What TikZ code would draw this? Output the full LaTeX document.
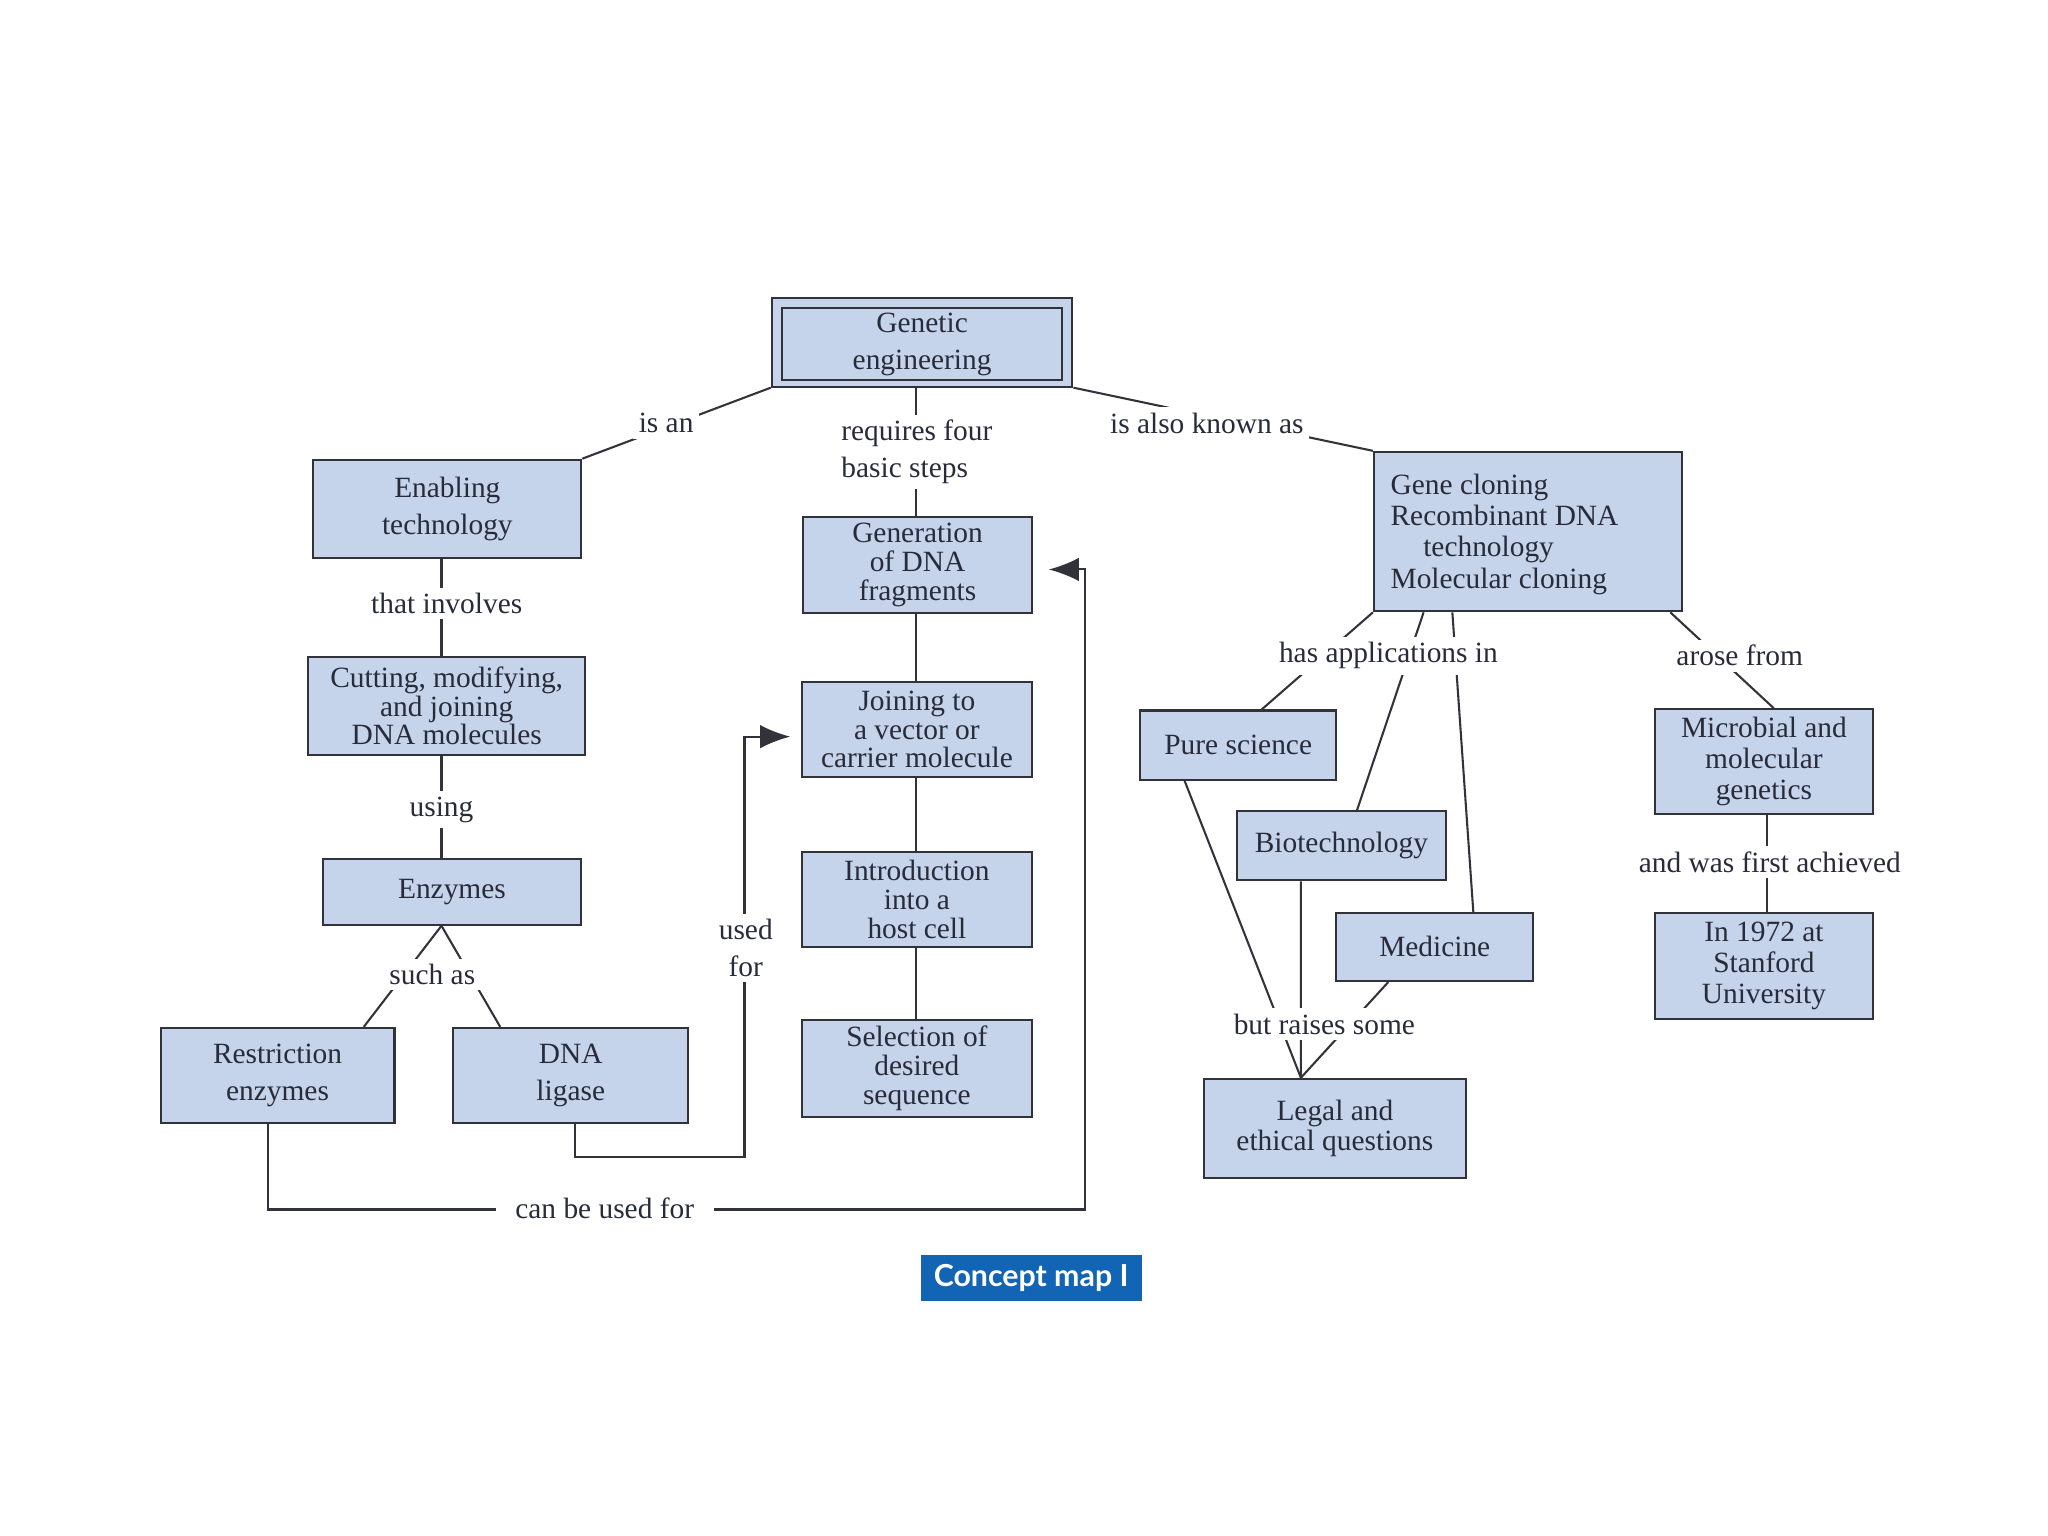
\documentclass[tikz,border=0pt]{standalone}
\usepackage{fontspec}
\setmainfont{Liberation Serif}
\newfontfamily\labelsans{Lato}
\usetikzlibrary{arrows.meta}
\definecolor{boxblue}{RGB}{197,211,235}
\definecolor{edgegray}{RGB}{50,50,58}
\definecolor{txt}{RGB}{40,44,58}
\definecolor{mapblue}{RGB}{18,100,180}
\begin{document}
\begin{tikzpicture}[x=0.01cm,y=-0.01cm,
  box/.style={draw=edgegray, fill=boxblue, line width=0.45pt, text=txt, align=center, inner sep=0pt, font=\fontsize{6.4}{8}\selectfont},
  tight/.style={font=\fontsize{6.4}{6.25}\selectfont},
  mid/.style={font=\fontsize{6.4}{6.7}\selectfont},
  lbl/.style={fill=white, text=txt, inner sep=1.2pt, align=center, font=\fontsize{6.4}{8}\selectfont},
  link/.style={draw=edgegray, line width=0.45pt},
  arr/.style={link, -{Latex[length=0.23cm,width=0.18cm]}}
]
\path[use as bounding box, fill=white] (0,0) rectangle (1568,1176);

% boxes
\node[box, minimum width=2.30cm, minimum height=0.68cm] (geo) at (706,262) {};
\node[box, minimum width=2.14cm, minimum height=0.55cm] (ge) at (706,263.5) {Genetic\\engineering};
\node[box, minimum width=2.05cm, minimum height=0.75cm] (en) at (342.5,389.5) {Enabling\\technology};
\node[box, tight, minimum width=2.12cm, minimum height=0.75cm] (cut) at (342,540.5) {Cutting, modifying,\\and joining\\DNA molecules};
\node[box, minimum width=1.98cm, minimum height=0.50cm] (enz) at (346,683) {Enzymes};
\node[box, minimum width=1.79cm, minimum height=0.73cm] (re) at (212.5,823.5) {Restriction\\enzymes};
\node[box, minimum width=1.80cm, minimum height=0.73cm] (dl) at (437,823.5) {DNA\\ligase};
\node[box, tight, minimum width=1.75cm, minimum height=0.73cm] (gen) at (702.5,432.5) {Generation\\of DNA\\fragments};
\node[box, tight, minimum width=1.76cm, minimum height=0.73cm] (join) at (702,558.5) {Joining to\\a vector or\\carrier molecule};
\node[box, tight, minimum width=1.76cm, minimum height=0.73cm] (intro) at (702,688.5) {Introduction\\into a\\host cell};
\node[box, tight, minimum width=1.76cm, minimum height=0.74cm] (sel) at (702,818) {Selection of\\desired\\sequence};
\node[box, minimum width=2.36cm, minimum height=1.22cm] (gc) at (1170,407) {};
\node[text=txt, align=left, inner sep=0pt, anchor=west, font=\fontsize{6.4}{6.85}\selectfont] (gctext) at (1064,409) {Gene cloning\\Recombinant DNA\\\hspace*{0.25cm}technology\\Molecular cloning};
\node[box, minimum width=1.50cm, minimum height=0.53cm] (pure) at (948,570.5) {Pure science};
\node[box, minimum width=1.60cm, minimum height=0.53cm] (bio) at (1027,647.5) {Biotechnology};
\node[box, minimum width=1.51cm, minimum height=0.52cm] (med) at (1098.5,725) {Medicine};
\node[box, mid, minimum width=2.00cm, minimum height=0.76cm] (legal) at (1022,864) {Legal and\\ethical questions};
\node[box, mid, minimum width=1.67cm, minimum height=0.80cm] (mic) at (1350.5,583) {Microbial and\\molecular\\genetics};
\node[box, mid, minimum width=1.67cm, minimum height=0.81cm] (stan) at (1350.5,739.5) {In 1972 at\\Stanford\\University};

% helper coordinates
\coordinate (genin) at (803,436);
\coordinate (joinin) at (605,564);
\coordinate (cbr) at (831,926);
\coordinate (lbr) at (570,886);
\coordinate (x338) at (338,0);
\coordinate (x701) at (701,0);
\coordinate (lapex) at ([xshift=-0.26cm]legal.north);
\coordinate (enzapex) at ([xshift=-0.08cm]enz.south);

% connectors
\draw[link] (geo.south west) -- (en.north east);
\draw[link] (geo.south east) -- (gc.north west);
\draw[link] (gen.north -| x701) -- (geo.south -| x701);
\draw[link] (en.south -| x338) -- (cut.north -| x338);
\draw[link] (cut.south -| x338) -- (enz.north -| x338);
\draw[link] (enzapex) -- ([xshift=0.66cm]re.north);
\draw[link] (enzapex) -- ([xshift=-0.54cm]dl.north);
\draw[link] (gen.south -| x701) -- (join.north -| x701);
\draw[link] (join.south -| x701) -- (intro.north -| x701);
\draw[link] (intro.south -| x701) -- (sel.north -| x701);
\draw[arr] ([xshift=-0.075cm]re.south) |- (cbr) |- (genin);
\draw[arr] ([xshift=0.03cm]dl.south) |- (lbr) |- (joinin);
\draw[link] (gc.south west) -- ([xshift=0.18cm]pure.north);
\draw[link] ([xshift=-0.80cm]gc.south) -- ([xshift=0.12cm]bio.north);
\draw[link] ([xshift=-0.58cm]gc.south) -- ([xshift=0.295cm]med.north);
\draw[link] ([xshift=-0.10cm]gc.south east) -- ([xshift=0.075cm]mic.north);
\draw[link] ([xshift=0.025cm]mic.south) -- ([xshift=0.025cm]stan.north);
\draw[link] ([xshift=-0.41cm]pure.south) -- (lapex);
\draw[link] ([xshift=-0.31cm]bio.south) -- (lapex);
\draw[link] ([xshift=-0.355cm]med.south) -- (lapex);

% labels
\node[lbl] (l1) at (510,324) {is an};
\node[lbl] (l2) at (924,324) {is also known as};
\node[lbl, align=left] (l3) at (702,346) {requires four\\basic steps};
\node[lbl] (l4) at (342,462) {that involves};
\node[lbl] (l5) at (338,620) {using};
\node[lbl] (l6) at (331,746) {such as};
\node[lbl] (l7) at (571,726) {used\\for};
\node[lbl, inner xsep=0.15cm] (l8) at (463,925) {can be used for};
\node[lbl] (l9) at (1063,502) {has applications in};
\node[lbl] (l10) at (1332,502) {arose from};
\node[lbl] (l11) at (1355,660) {and was first achieved};
\node[lbl] (l12) at (1014,784) {but raises some};

\node[fill=mapblue, text=white, font=\labelsans\bfseries\fontsize{6.6}{8}\selectfont, minimum width=1.69cm, minimum height=0.35cm, inner sep=0pt] (cmap) at (789.5,978.5) {Concept map I};
\end{tikzpicture}
\end{document}
